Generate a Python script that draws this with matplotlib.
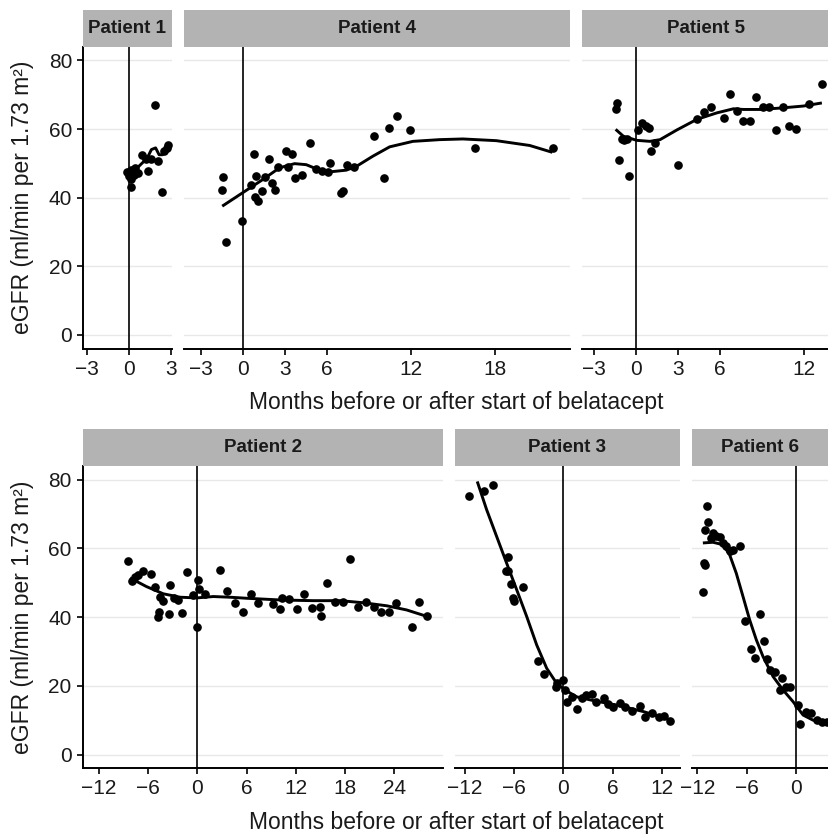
import numpy as np
import matplotlib.pyplot as plt

plt.rcParams['font.family'] = ['Liberation Sans', 'DejaVu Sans']

W, H = 829, 834

# ---- data (months, eGFR) ----
p1_month = [1.85, -0.12, 0.12, 0.0, 0.17, 0.36, 0.12, 0.65, 0.96, 1.37, 1.25, 1.56,
            2.09, 2.35, 2.69, 2.81, 2.49, 0.43]
p1_egfr = [67.1, 47.5, 48.0, 46.2, 45.3, 46.7, 43.0, 47.2, 52.3, 47.7, 51.3, 51.3,
           50.6, 41.6, 54.5, 55.2, 53.5, 48.7]
p1_fit_month = [-0.2, 0.3, 0.8, 1.3, 1.6, 1.9, 2.15, 2.4, 2.6, 2.85]
p1_fit_egfr = [46.0, 47.5, 49.5, 51.5, 54.0, 54.5, 52.5, 52.5, 54.5, 55.5]

p4_month = [-1.43, -1.5, -1.24, -0.1, 0.76, 0.93, 0.6, 0.86, 1.1, 1.33, 1.57, 1.86,
            2.05, 2.26, 2.52, 3.05, 3.24, 3.52, 3.74, 4.24, 4.76, 5.19, 5.64, 6.1,
            6.19, 7.0, 7.14, 7.43, 7.95, 9.38, 10.07, 10.45, 11.02, 11.93, 16.57, 22.14]
p4_egfr = [46.0, 42.1, 27.0, 33.3, 52.7, 46.3, 43.6, 40.1, 38.9, 41.8, 46.0, 51.4,
           44.3, 42.1, 48.9, 53.7, 48.9, 52.6, 45.8, 46.6, 55.8, 48.2, 47.9, 47.5,
           50.0, 41.3, 41.8, 49.6, 48.8, 57.9, 45.8, 60.2, 63.9, 59.7, 54.5, 54.5]
p4_fit_month = [-1.48, -0.1, 1.43, 2.62, 3.69, 4.52, 5.24, 6.19, 7.38, 8.1, 9.29,
                10.48, 12.14, 14.05, 15.71, 18.1, 20.48, 22.1]
p4_fit_egfr = [37.5, 41.2, 45.3, 48.7, 49.9, 49.6, 48.4, 47.5, 48.0, 49.1, 52.1,
               54.8, 56.4, 56.9, 57.1, 56.6, 55.2, 53.2]

p5_month = [-1.43, -1.33, -1.21, -1.0, -0.81, -0.64, -0.45, 0.19, 0.43, 0.74, 0.98,
            1.12, 1.4, 3.0, 4.38, 4.88, 5.36, 6.29, 6.76, 7.24, 7.64, 8.19, 8.62,
            9.07, 9.55, 10.05, 10.5, 10.95, 11.45, 12.36, 13.31]
p5_egfr = [65.9, 67.6, 51.1, 57.2, 56.7, 57.1, 46.4, 59.7, 61.8, 60.8, 60.2,
           53.5, 56.0, 49.6, 62.8, 64.9, 66.4, 63.3, 70.1, 65.2, 62.4, 62.4, 69.2,
           66.4, 66.4, 59.6, 66.4, 60.8, 60.1, 67.3, 73.2]
p5_fit_month = [-1.43, -0.88, 0.07, 1.02, 1.74, 2.93, 4.36, 5.79, 6.98, 7.69, 8.88,
                10.31, 11.98, 13.29]
p5_fit_egfr = [59.9, 57.9, 56.7, 56.4, 56.9, 59.7, 62.8, 64.7, 65.9, 65.7, 65.7,
               66.1, 66.7, 67.6]

p2_month = [-8.5, -8.0, -7.6, -7.2, -6.6, -5.65, -5.16, -4.55, -4.15, -4.67, -4.76,
            -3.41, -3.33, -2.8, -2.4, -1.87, -1.3, -0.49, 0.12, 0.2, -0.08, 0.93,
            2.76, 3.66, 4.59, 5.53, 6.54, 7.44, 9.19, 10.1, 10.3, 11.2, 12.1, 13.05,
            14.0, 14.9, 15.1, 15.8, 16.8, 17.7, 18.6, 19.55, 20.5, 21.5, 22.4, 23.3,
            24.2, 26.1, 27.0, 28.0]
p2_egfr = [56.2, 50.4, 51.8, 52.3, 53.3, 52.6, 48.7, 46.0, 44.6, 41.4, 40.0,
           40.9, 49.4, 45.5, 45.0, 41.1, 53.0, 46.5, 50.7, 48.2, 37.1, 46.8,
           53.8, 47.7, 44.1, 41.4, 46.7, 44.1, 43.8, 42.4, 45.7, 45.2, 42.3, 46.7,
           42.6, 43.1, 40.2, 50.0, 44.5, 44.5, 56.9, 42.9, 44.5, 42.9, 41.6, 41.4,
           44.2, 37.1, 44.5, 40.2]
p2_fit_month = [-8.2, -6.2, -4.15, -2.1, -0.08, 1.95, 3.98, 6.0, 10.1, 14.1, 17.4,
                20.2, 23.1, 25.5, 28.0]
p2_fit_egfr = [51.4, 48.9, 46.8, 45.8, 45.6, 46.0, 45.8, 45.5, 45.0, 44.8, 44.8,
               44.2, 43.3, 42.1, 40.2]

p3_month = [-11.46, -9.63, -8.62, -6.79, -6.7, -7.0, -6.38, -4.96, -6.18, -5.98,
            -3.09, -2.32, -0.89, -0.73, 0.0, 0.2, 0.49, 1.0, 1.63, 2.24, 2.76, 3.46,
            3.98, 4.96, 5.49, 6.1, 6.91, 7.52, 8.33, 9.27, 9.96, 10.77, 11.59, 12.2,
            12.93]
p3_egfr = [75.4, 76.6, 78.6, 57.5, 53.5, 53.3, 49.7, 48.9, 45.5, 44.8,
           27.3, 23.4, 19.8, 20.7, 21.7, 18.8, 15.4, 16.8, 13.2, 16.4, 17.4, 17.6,
           15.4, 16.4, 14.7, 13.9, 15.1, 13.9, 12.8, 14.1, 10.8, 12.0, 11.0, 11.2,
           9.9]
p3_fit_month = [-10.49, -9.35, -8.13, -6.91, -5.69, -4.47, -3.25, -2.03, -0.81, 0.2,
                1.63, 3.66, 6.5, 9.76, 13.0]
p3_fit_egfr = [79.5, 71.3, 63.5, 55.7, 48.0, 40.2, 31.9, 25.1, 20.7, 18.8,
               16.8, 15.7, 14.4, 12.5, 10.1]

p6_month = [-10.81, -10.73, -11.06, -10.12, -10.33, -9.72, -9.23, -8.9, -8.5, -8.09,
            -7.68, -6.87, -11.22, -11.14, -11.34, -6.18, -4.43, -3.94, -5.53, -4.96,
            -3.5, -3.13, -2.6, -1.67, -1.99, -1.26, -0.69, 0.24, 0.53, 1.26, 1.87,
            2.48, 3.09, 3.7]
p6_egfr = [72.3, 67.6, 65.4, 64.6, 63.0, 63.5, 63.3, 61.6, 60.6, 59.4,
           59.6, 60.8, 55.7, 55.2, 47.2, 39.0, 41.0, 33.1, 30.8, 28.2,
           27.7, 24.6, 24.1, 22.2, 18.8, 19.6, 19.6, 14.4, 8.9, 12.5, 12.0,
           10.1, 9.6, 9.6]
p6_fit_month = [-11.34, -10.12, -8.9, -8.09, -7.28, -6.46, -5.65, -4.84, -4.02, -2.8,
                -1.59, -0.37, 0.85, 2.07, 3.98]
p6_fit_egfr = [61.6, 61.8, 61.1, 58.2, 52.8, 46.0, 39.2, 33.4, 28.5, 22.7,
               18.8, 15.4, 11.5, 10.0, 9.6]

y_ticks = [0, 20, 40, 60, 80]
x_label = "Months before or after start of belatacept"
y_label = "eGFR (ml/min per 1.73 m²)"

# (title, x, y, fit x, fit y, xlim, xticks, left px, right px, row)
panels = [
    ("Patient 1", p1_month, p1_egfr, p1_fit_month, p1_fit_egfr, (-3.26, 3.05), [-3, 0, 3], 83.3, 171.7, 0),
    ("Patient 4", p4_month, p4_egfr, p4_fit_month, p4_fit_egfr, (-4.21, 23.36), [-3, 0, 3, 6, 12, 18], 184, 570, 0),
    ("Patient 5", p5_month, p5_egfr, p5_fit_month, p5_fit_egfr, (-3.81, 13.8), [-3, 0, 3, 6, 12], 582.3, 829, 0),
    ("Patient 2", p2_month, p2_egfr, p2_fit_month, p2_fit_egfr, (-13.97, 29.9), [-12, -6, 0, 6, 12, 18, 24], 82.7, 442.7, 1),
    ("Patient 3", p3_month, p3_egfr, p3_fit_month, p3_fit_egfr, (-13.2, 14.2), [-12, -6, 0, 6, 12], 455, 680, 1),
    ("Patient 6", p6_month, p6_egfr, p6_fit_month, p6_fit_egfr, (-12.7, 4.0), [-12, -6, 0], 691.7, 829, 1),
]

# row geometry in pixels: strip top, panel top, panel bottom
rows = [(10, 46.7, 348.5), (429.3, 466, 768.3)]

fig = plt.figure(figsize=(W / 100, H / 100), dpi=100)


def px_axes(x0, y0, x1, y1):
    return fig.add_axes([x0 / W, 1 - y1 / H, (x1 - x0) / W, (y1 - y0) / H])


first_in_row = set()
for title, xs, ys, fx, fy, xlim, xticks, x0, x1, r in panels:
    s_top, p_top, p_bot = rows[r]
    ax = px_axes(x0, p_top, x1, p_bot)
    ax.set_xlim(*xlim)
    ax.set_ylim(-4, 84)
    ax.set_xticks(xticks)
    ax.set_yticks(y_ticks)
    ax.yaxis.grid(True, color='#e8e8e8', lw=1.0)
    ax.set_axisbelow(True)
    for s in ['top', 'right']:
        ax.spines[s].set_visible(False)
    ax.spines['bottom'].set_linewidth(1.4)
    ax.spines['left'].set_linewidth(1.4)
    ax.tick_params(axis='both', length=4, width=1.2, labelsize=15, color='black',
                   labelcolor='#1a1a1a')
    ax.tick_params(axis='x', pad=4)
    ax.tick_params(axis='y', pad=4)
    if r in first_in_row:
        ax.spines['left'].set_visible(False)
        ax.tick_params(axis='y', left=False, labelleft=False)
    first_in_row.add(r)

    ax.axvline(0, color='black', lw=1.2, zorder=2)
    ax.plot(fx, fy, color='black', lw=2.1, zorder=3, solid_capstyle='butt')
    ax.plot(xs, ys, 'o', color='black', ms=5.2, zorder=4)

    sax = px_axes(x0, s_top, x1, p_top)
    sax.set_facecolor('#b3b3b3')
    sax.set_xticks([])
    sax.set_yticks([])
    for s in sax.spines.values():
        s.set_visible(False)
    sax.text(0.5, 0.5, title, ha='center', va='center', fontsize=13.5,
             fontweight='bold', color='#1a1a1a', transform=sax.transAxes)

for s_top, p_top, p_bot in rows:
    fig.text(456 / W, 1 - (p_bot + 54) / H, x_label, ha='center', va='center',
             fontsize=16.5, color='#1a1a1a')
    fig.text(23 / W, 1 - ((p_top + p_bot) / 2) / H, y_label, ha='center', va='center',
             rotation=90, fontsize=16.5, color='#1a1a1a')

fig.savefig("out.png", dpi=100)
